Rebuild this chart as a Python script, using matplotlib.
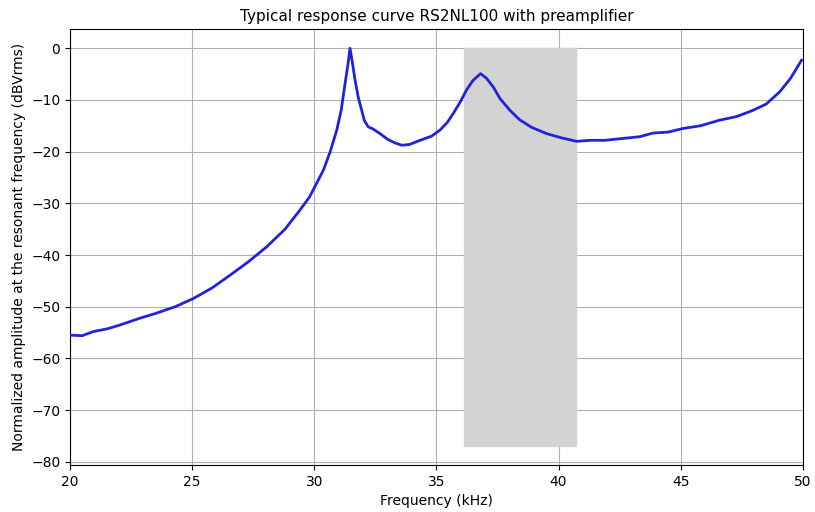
import matplotlib
matplotlib.use('Agg')
import matplotlib.pyplot as plt

# frequency (kHz) and normalized amplitude (dBVrms)
freq = [20.0, 20.5, 20.95, 21.5, 22.0, 22.87, 23.5, 24.3, 25.05, 25.8, 26.55, 27.3,
        28.05, 28.8, 29.41, 29.8, 30.16, 30.37, 30.65, 30.92, 31.1, 31.26, 31.38, 31.46,
        31.55, 31.67, 31.8, 31.94, 32.05, 32.21, 32.4, 32.69, 33.0, 33.3, 33.58, 33.9,
        34.33, 34.8, 35.15, 35.45, 35.69, 35.96, 36.24, 36.5, 36.81, 37.05, 37.33, 37.6,
        38.01, 38.4, 38.9, 39.51, 40.1, 40.74, 41.3, 41.9, 42.51, 43.33, 43.86, 44.5,
        45.1, 45.8, 46.6, 47.3, 47.96, 48.5, 49.06, 49.5, 49.95]
amp = [-55.5, -55.6, -54.8, -54.3, -53.6, -52.2, -51.3, -50.0, -48.4, -46.4, -43.9, -41.3,
       -38.4, -35.0, -31.3, -28.8, -25.5, -23.6, -20.0, -15.8, -12.0, -6.8, -3.0, 0.0,
       -2.5, -6.2, -9.5, -12.0, -14.0, -15.2, -15.6, -16.5, -17.6, -18.3, -18.75, -18.6,
       -17.8, -17.0, -15.8, -14.3, -12.6, -10.5, -8.0, -6.2, -4.9, -5.8, -7.5, -9.7,
       -12.0, -13.8, -15.3, -16.5, -17.3, -18.0, -17.8, -17.8, -17.5, -17.1, -16.4, -16.2,
       -15.5, -15.0, -13.9, -13.2, -12.0, -10.8, -8.4, -5.8, -2.3]

band = (36.13, 40.72)
band_low, band_high = -77.0, 0.0

fig = plt.figure(figsize=(8.15, 5.12), dpi=100)
ax = fig.add_axes([0.086, 0.092, 0.899, 0.851])

ax.fill_between(band, band_low, band_high, color='#d3d3d3', zorder=1)
ax.plot(freq, amp, color='#2222dd', lw=2, zorder=3)

ax.set_xlim(20, 50)
ax.set_ylim(-80.6, 3.7)
ax.set_yticks(range(-80, 1, 10))
ax.grid(True, zorder=0)
ax.set_axisbelow(True)
ax.set_title('Typical response curve RS2NL100 with preamplifier', fontsize=11)
ax.set_xlabel('Frequency (kHz)', fontsize=10)
ax.set_ylabel('Normalized amplitude at the resonant frequency (dBVrms)', fontsize=10)

plt.savefig('out.png')
